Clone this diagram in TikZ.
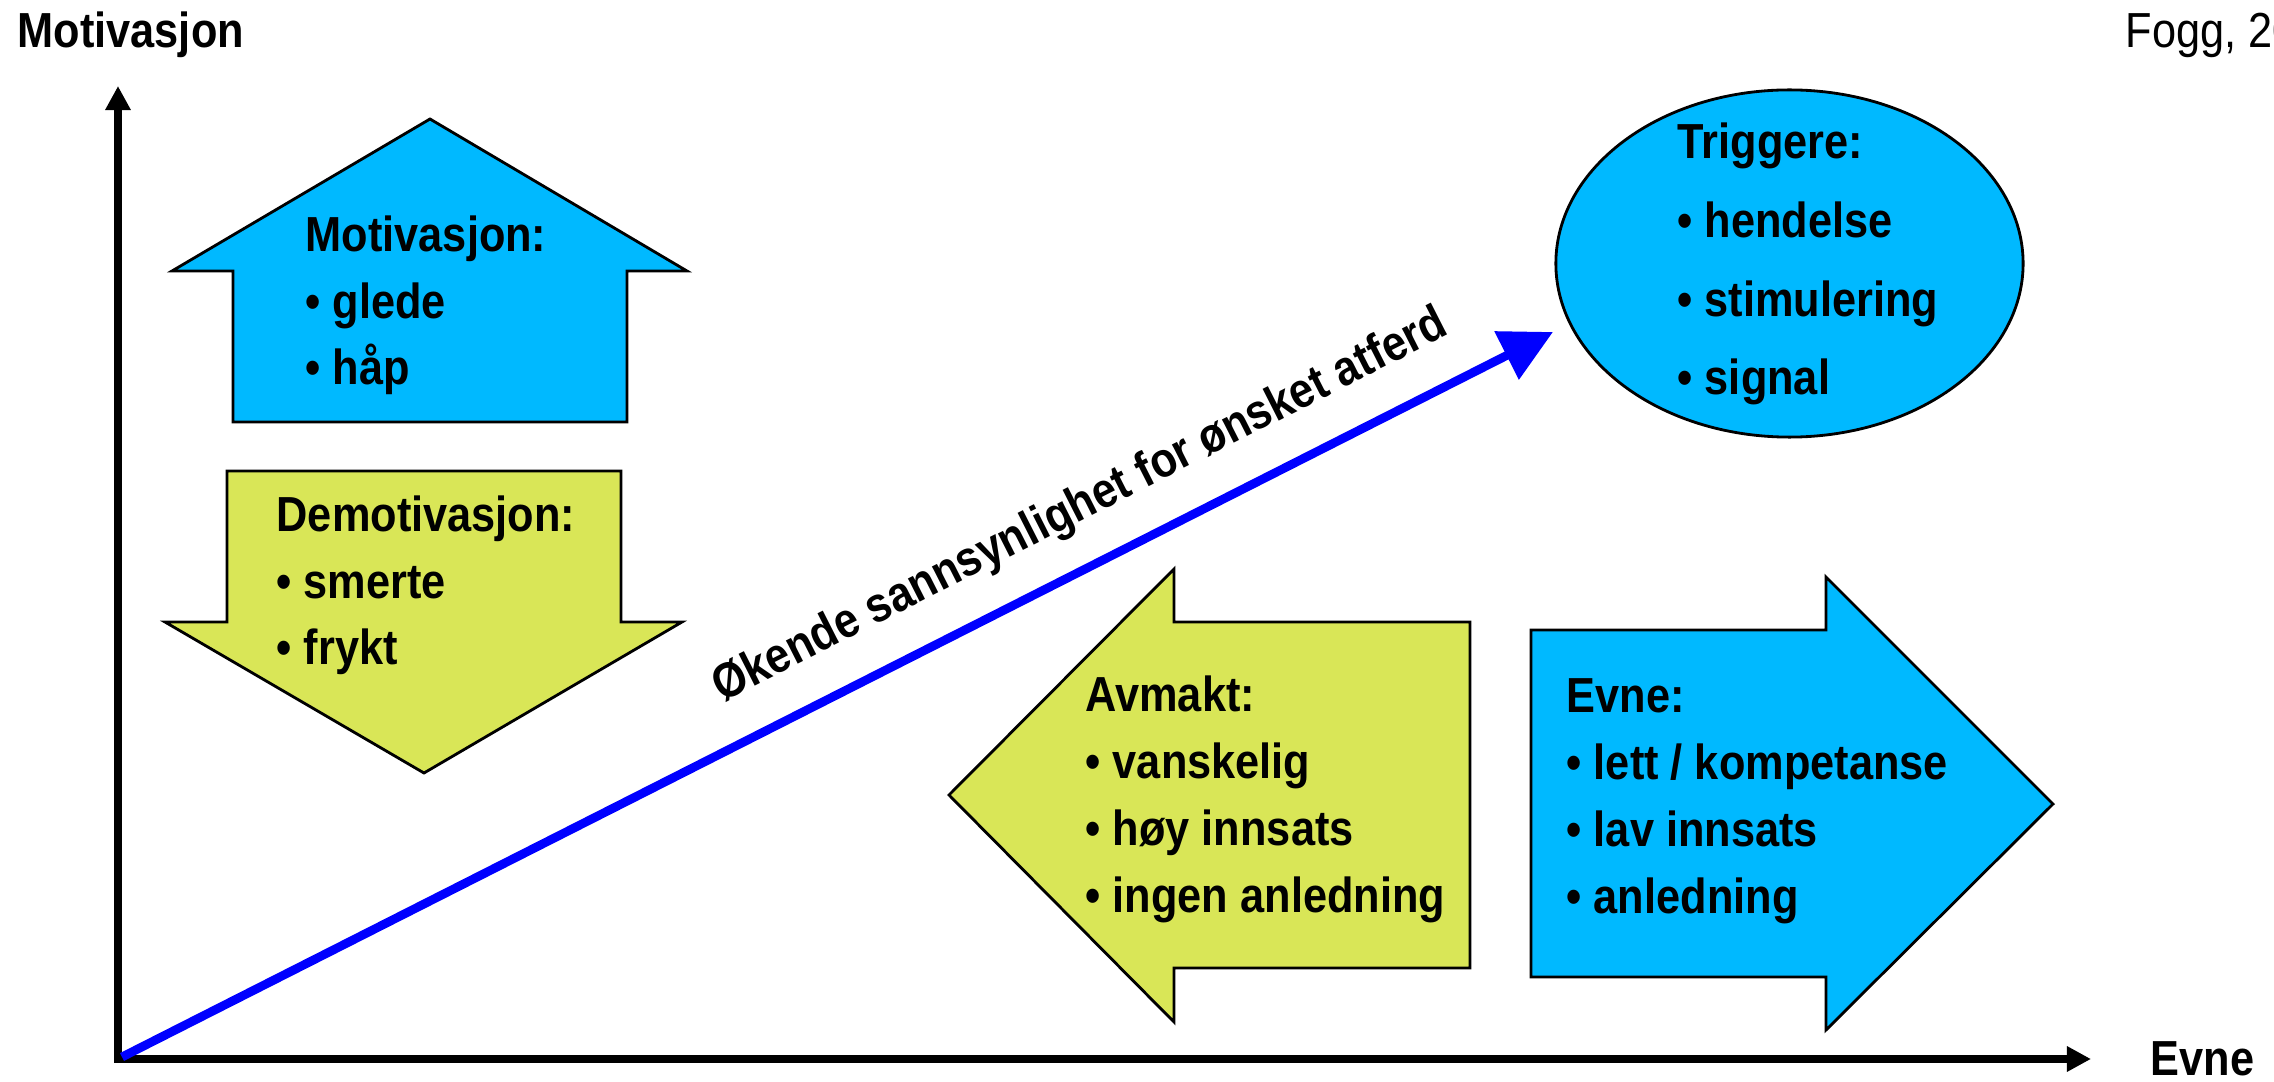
\documentclass[tikz,border=0pt]{standalone}
\usepackage{fontspec}
\setmainfont{Liberation Sans}[FakeStretch=0.88]
\usetikzlibrary{arrows.meta, positioning, shapes.geometric}
\definecolor{skyfill}{RGB}{0,185,255}
\definecolor{limefill}{RGB}{217,230,87}

\begin{document}
\begin{tikzpicture}[x=0.01cm, y=-0.01cm,
    panel/.style={draw, line width=0.8pt, line join=miter},
    listtext/.style={font=\bfseries\fontsize{14}{19}\selectfont, align=left,
                     inner sep=0pt, anchor=base west},
    axis/.style={line width=2pt, line join=miter,
                 {Triangle[length=0.24cm, width=0.24cm]}-{Triangle[length=0.24cm, width=0.24cm]}}]
  \useasboundingbox (0,0) rectangle (2274,1082);
  \clip (0,0) rectangle (2274,1082);

  % Axes
  \coordinate (orig) at (118,1059);
  \coordinate (ytop) at (118,86);
  \coordinate (xend) at (2091,1059);
  \draw[axis] (ytop) -- (orig) -- (xend);
  \node[font=\bfseries\fontsize{14}{17}\selectfont, inner sep=0pt, anchor=base west]
    (ylab) at (17,48) {Motivasjon};
  \node[font=\bfseries\fontsize{14}{17}\selectfont, inner sep=0pt, anchor=base west]
    (xlab) at (2150,1075) {Evne};
  \node[font=\fontsize{14}{17}\selectfont, inner sep=0pt, anchor=base west]
    (src) at (2125,48) {Fogg, 20};

  % Motivasjon (up), text anchored at its last line
  \draw[panel, fill=skyfill] (430,119) -- (687,271) -- (627,271) -- (627,422)
    -- (233,422) -- (233,271) -- (172,271) -- cycle;
  \node[listtext] (mot) at (305,385) {Motivasjon:\\• glede\\• håp};

  % Demotivasjon (down)
  \draw[panel, fill=limefill] (227,471) -- (621,471) -- (621,622) -- (682,622)
    -- (424,773) -- (165,622) -- (227,622) -- cycle;
  \node[listtext] (demot) at (276,665) {Demotivasjon:\\• smerte\\• frykt};

  % Avmakt (left)
  \draw[panel, fill=limefill] (949,795) -- (1174,569) -- (1174,622) -- (1470,622)
    -- (1470,968) -- (1174,968) -- (1174,1022) -- cycle;
  \node[listtext] (avm) at (1085,912) {Avmakt:\\• vanskelig\\• høy innsats\\• ingen anledning};

  % Evne (right)
  \draw[panel, fill=skyfill] (1531,630) -- (1826,630) -- (1826,577) -- (2053,804)
    -- (1826,1030) -- (1826,977) -- (1531,977) -- cycle;
  \node[listtext] (evne) at (1566,913) {Evne:\\• lett / kompetanse\\• lav innsats\\• anledning};

  % Triggere
  \node[panel, ellipse, fill=skyfill, minimum width=4.67cm, minimum height=3.47cm,
        inner sep=0pt] (trig) at (1789.5,263.5) {};
  \node[listtext, font=\bfseries\fontsize{14}{22.4}\selectfont]
    (trigtxt) at (1677,395) {Triggere:\\• hendelse\\• stimulering\\• signal};

  % Probability arrow
  \coordinate (start) at (122,1057);
  \coordinate (goal) at (1553,332);
  \draw[line width=2.5pt, blue, -{Triangle[length=0.52cm, width=0.52cm]}] (start) --
    node[pos=0.688, sloped, above, inner sep=8.5pt, black,
         font=\bfseries\fontsize{14}{17}\selectfont] (prob)
    {Økende sannsynlighet for ønsket atferd} (goal);
\end{tikzpicture}
\end{document}
